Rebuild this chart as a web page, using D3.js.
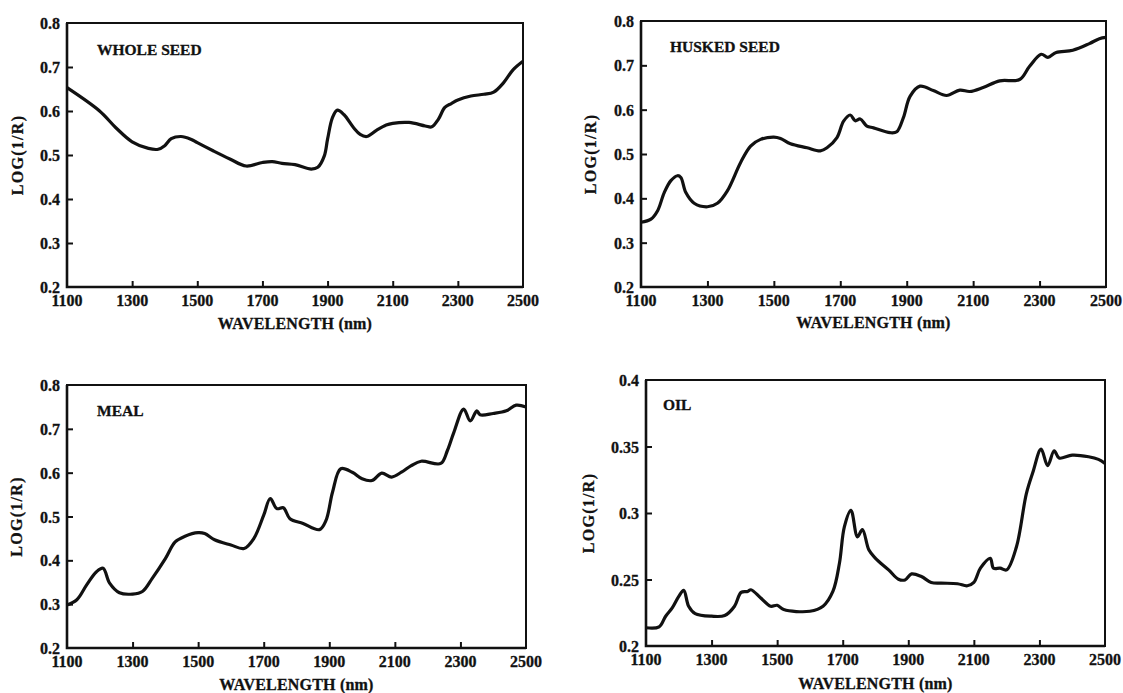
<!DOCTYPE html>
<html>
<head>
<meta charset="utf-8">
<script src="https://cdn.jsdelivr.net/npm/d3@7"></script>
<style>
  body { margin: 0; background: #fff; }
  text { font-family: "Liberation Serif", "Times New Roman", serif; font-weight: bold; fill: #111; stroke: #111; stroke-width: 0.3px; }
</style>
</head>
<body>
<div id="chart"></div>
<script>
// wavelengths (nm) and log(1/R)
var wholeSeedNm = [1100,1200,1250,1300,1350,1380,1400,1420,1450,1480,1500,1550,1600,1650,1700,1730,1760,1800,1850,1870,1890,1900,1915,1930,1950,1980,2000,2020,2050,2080,2100,2150,2200,2220,2240,2260,2280,2300,2340,2380,2410,2440,2470,2500];
var wholeSeedLog = [0.653,0.600,0.562,0.530,0.515,0.513,0.521,0.537,0.542,0.536,0.528,0.509,0.491,0.475,0.483,0.485,0.481,0.478,0.468,0.472,0.498,0.536,0.585,0.602,0.592,0.562,0.547,0.542,0.556,0.568,0.572,0.574,0.566,0.564,0.581,0.608,0.617,0.625,0.634,0.638,0.643,0.664,0.694,0.713];

var huskedNm = [1100,1130,1150,1170,1190,1210,1220,1235,1260,1300,1330,1360,1400,1430,1460,1500,1520,1550,1600,1640,1660,1690,1710,1730,1745,1760,1780,1800,1850,1870,1890,1910,1940,1980,2020,2060,2090,2130,2180,2240,2270,2305,2325,2350,2400,2450,2480,2500];
var huskedLog = [0.346,0.353,0.372,0.413,0.440,0.451,0.447,0.413,0.389,0.381,0.389,0.417,0.481,0.518,0.533,0.538,0.535,0.523,0.514,0.507,0.514,0.537,0.574,0.588,0.575,0.579,0.563,0.559,0.548,0.550,0.582,0.630,0.653,0.643,0.632,0.644,0.641,0.650,0.665,0.668,0.698,0.725,0.718,0.729,0.734,0.749,0.760,0.763];

var mealNm = [1100,1130,1160,1190,1210,1230,1260,1300,1330,1360,1400,1430,1460,1500,1520,1550,1600,1640,1670,1700,1720,1740,1760,1780,1820,1870,1890,1910,1935,1970,2000,2030,2060,2090,2120,2150,2180,2240,2260,2280,2310,2330,2350,2360,2400,2440,2470,2500];
var mealLog = [0.298,0.310,0.344,0.374,0.382,0.348,0.326,0.323,0.329,0.359,0.404,0.442,0.455,0.463,0.461,0.447,0.435,0.427,0.450,0.503,0.541,0.518,0.520,0.495,0.484,0.470,0.491,0.556,0.609,0.601,0.586,0.582,0.599,0.590,0.601,0.616,0.626,0.621,0.650,0.692,0.745,0.718,0.741,0.732,0.735,0.741,0.754,0.750];

var oilNm = [1100,1140,1160,1180,1200,1215,1230,1250,1300,1340,1370,1390,1410,1420,1450,1480,1500,1520,1600,1640,1670,1690,1705,1725,1745,1760,1780,1800,1840,1870,1890,1910,1940,1970,2000,2050,2080,2100,2120,2150,2160,2180,2200,2230,2260,2280,2305,2325,2345,2360,2400,2450,2480,2500];
var oilLog = [0.2137,0.2144,0.2224,0.2286,0.2373,0.2418,0.2299,0.2244,0.2224,0.2229,0.2299,0.2403,0.2410,0.2423,0.2361,0.2299,0.2306,0.2274,0.2261,0.2299,0.2410,0.2622,0.2896,0.3020,0.2821,0.2876,0.2721,0.2659,0.2572,0.2502,0.2497,0.2542,0.2522,0.2478,0.2473,0.2468,0.2453,0.2478,0.2585,0.2659,0.2585,0.2585,0.2572,0.2746,0.3144,0.3306,0.3480,0.3356,0.3468,0.3413,0.3435,0.3423,0.3403,0.3373];

var xTicks = [1100,1300,1500,1700,1900,2100,2300,2500];
var yTicksA = [0.2,0.3,0.4,0.5,0.6,0.7,0.8];
var yTicksOil = [0.2,0.25,0.3,0.35,0.4];
var titles = ["WHOLE SEED", "HUSKED SEED", "MEAL", "OIL"];
var xLabel = "WAVELENGTH (nm)";
var yLabel = "LOG(1/R)";

var w = 1123, h = 693;

// panel frames (layout only)
var panels = [
  { nm: wholeSeedNm, v: wholeSeedLog, yt: yTicksA, l: 67,  r: 523,  t: 23,  b: 287, tx: 97,  ty: 55,  xl: 329, yl: 18 },
  { nm: huskedNm,    v: huskedLog,    yt: yTicksA, l: 641, r: 1106, t: 21,  b: 287, tx: 670, ty: 52,  xl: 328, yl: 591 },
  { nm: mealNm,      v: mealLog,      yt: yTicksA, l: 67,  r: 526,  t: 385, b: 648, tx: 97,  ty: 416, xl: 690, yl: 17 },
  { nm: oilNm,       v: oilLog,       yt: yTicksOil, l: 646, r: 1105, t: 380, b: 646, tx: 663, ty: 410, xl: 689, yl: 589 }
];

var svg = d3.select("#chart").append("svg")
  .attr("width", w)
  .attr("height", h)
  .style("background", "#fff");

panels.forEach(function (p, i) {
  var x = d3.scaleLinear().domain([1100, 2500]).range([p.l, p.r]);
  var y = d3.scaleLinear().domain(d3.extent(p.yt)).range([p.b, p.t]);
  var g = svg.append("g");
  var fmt = d3.format(".2~f");

  // inward ticks
  g.append("g")
    .attr("transform", "translate(0," + p.b + ")")
    .call(d3.axisTop(x).tickValues(xTicks.slice(1, -1)).tickSize(6).tickFormat(""))
    .call(function (s) { s.select(".domain").remove(); s.selectAll("line").attr("stroke", "#111").attr("stroke-width", 2); });
  g.append("g")
    .attr("transform", "translate(" + p.l + ",0)")
    .call(d3.axisRight(y).tickValues(p.yt.slice(1, -1)).tickSize(6).tickFormat(""))
    .call(function (s) { s.select(".domain").remove(); s.selectAll("line").attr("stroke", "#111").attr("stroke-width", 2); });

  // tick labels
  g.selectAll(".xt").data(xTicks).enter().append("text")
    .attr("x", function (d) { return x(d); })
    .attr("y", p.b + 19)
    .attr("text-anchor", "middle")
    .style("font-size", "16px")
    .text(function (d) { return d; });
  g.selectAll(".yt").data(p.yt).enter().append("text")
    .attr("x", p.l - 7)
    .attr("y", function (d) { return y(d) + 6; })
    .attr("text-anchor", "end")
    .style("font-size", "16px")
    .text(fmt);

  // frame
  g.append("rect")
    .attr("x", p.l).attr("y", p.t)
    .attr("width", p.r - p.l).attr("height", p.b - p.t)
    .attr("fill", "none").attr("stroke", "#111").attr("stroke-width", 2);
  g.append("path")
    .attr("d", "M" + p.l + "," + p.t + "V" + p.b + "H" + p.r)
    .attr("fill", "none").attr("stroke", "#111").attr("stroke-width", 2.6);

  // spectrum
  var line = d3.line()
    .x(function (d, k) { return x(p.nm[k]); })
    .y(function (d) { return y(d); })
    .curve(d3.curveCatmullRom.alpha(0.5));
  g.append("path")
    .datum(p.v)
    .attr("d", line)
    .attr("fill", "none")
    .attr("stroke", "#111")
    .attr("stroke-width", 3.2)
    .attr("stroke-linejoin", "round");

  // texts
  g.append("text")
    .attr("x", p.tx).attr("y", p.ty)
    .style("font-size", "15.5px")
    .text(titles[i]);
  g.append("text")
    .attr("x", (p.l + p.r) / 2).attr("y", p.xl)
    .attr("text-anchor", "middle")
    .style("font-size", "16px")
    .style("letter-spacing", "0.2px")
    .text(xLabel);
  g.append("text")
    .attr("transform", "translate(" + (p.yl + 5) + "," + ((p.t + p.b) / 2) + ") rotate(-90)")
    .attr("text-anchor", "middle")
    .style("font-size", "16px")
    .style("letter-spacing", "1.3px")
    .text(yLabel);
});
</script>
</body>
</html>
